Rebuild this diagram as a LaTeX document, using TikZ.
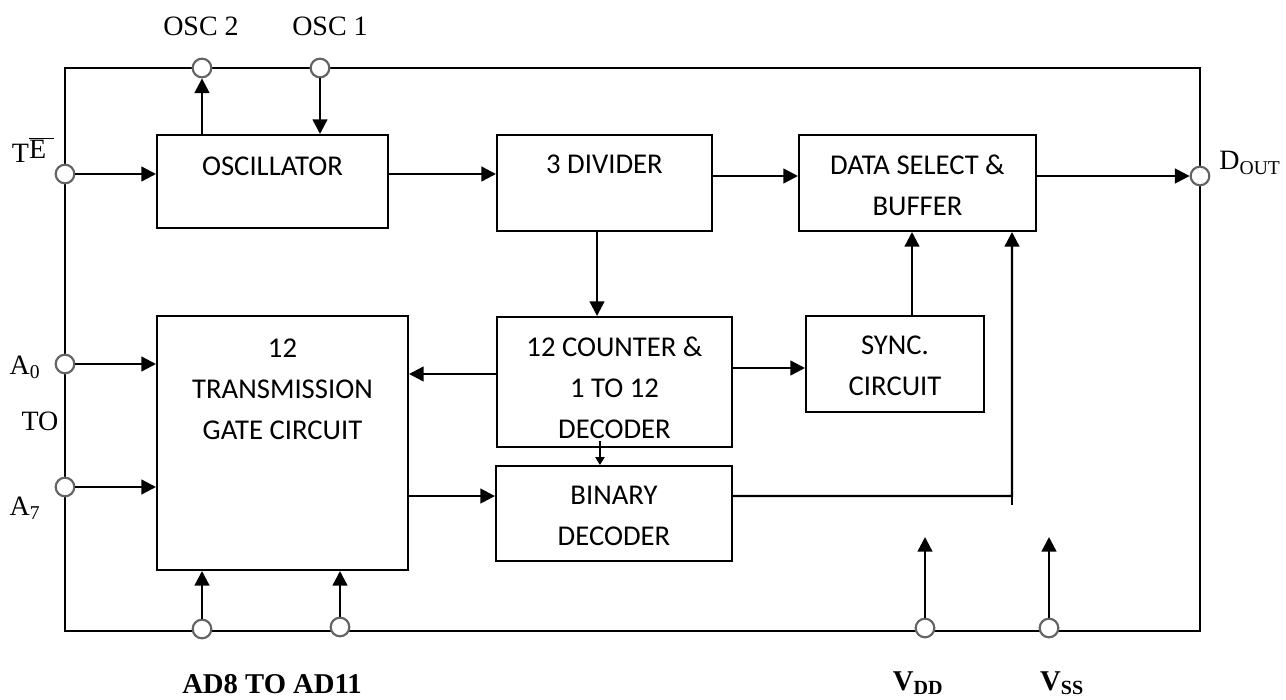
\documentclass[tikz,border=0pt]{standalone}
\usepackage{fontspec}
\setmainfont{Liberation Serif}
\newfontfamily\blkfont{Carlito}
\usetikzlibrary{positioning,arrows.meta}

\tikzset{every picture/.style={line width=1.5pt}}
\tikzset{
	blk/.style={draw, rectangle, inner sep=0pt},
	blktext/.style={inner sep=0pt, align=center, font=\blkfont\fontsize{21.5}{30.75}\selectfont},
	pinc/.style={circle, draw={rgb, 255:red, 100; green, 100; blue, 100 }, fill=white, inner sep=0pt, minimum size=14pt, line width=1.6pt},
	pinlabel/.style={inner sep=0pt, font=\fontsize{21}{25}\selectfont},
	arr/.style={-{Triangle[length=11pt,width=11pt]}, line width=1.8pt},
	smallarr/.style={-{Triangle[length=6pt,width=7pt]}, line width=1.2pt},
}

\begin{document}
\begin{tikzpicture}[x=0.75pt,y=0.75pt,yscale=-1,xscale=1]
	\useasboundingbox (0,0) rectangle (1286,700);

	%Shape: Rectangle [chip outline]
	\draw (65,68) rectangle (1200,631);

	%Blocks
	\node[blk, minimum width=173.25pt, minimum height=69.75pt] (osc) at (272.5,181.5) {};
	\node[blk, minimum width=161.25pt, minimum height=72pt] (div) at (604.5,183) {};
	\node[blk, minimum width=177.75pt, minimum height=72pt] (dsb) at (917.5,183) {};
	\node[blk, minimum width=176.25pt, minimum height=97.5pt] (cnt) at (614.5,382) {};
	\node[blk, minimum width=133.5pt, minimum height=72pt] (sync) at (895,364) {};
	\node[blk, minimum width=188.25pt, minimum height=190.5pt] (tgc) at (282.5,443) {};
	\node[blk, minimum width=177pt, minimum height=71.25pt] (bin) at (614,513.5) {};

	%Block texts
	\node[blktext, below=16.5pt of osc.north] (osct) {OSCILLATOR};
	\node[blktext, below=15pt of div.north] (divt) {3 DIVIDER};
	\node[blktext, below=15pt of dsb.north] (dsbt) {DATA SELECT \&\\BUFFER};
	\node[blktext, below=15pt of cnt.north] (cntt) {12 COUNTER \&\\1 TO 12\\DECODER};
	\node[blktext, below=15pt of sync.north] (synct) {SYNC.\\CIRCUIT};
	\node[blktext, below=17pt of tgc.north] (tgct) {12\\TRANSMISSION\\GATE CIRCUIT};
	\node[blktext, below=15pt of bin.north] (bint) {BINARY\\DECODER};

	%Pins
	\node[pinc] (osctwo) at (202,68) {};
	\node[pinc] (oscone) at (320,68) {};
	\node[pinc] (te) at (65,174) {};
	\node[pinc] (azero) at (65,364) {};
	\node[pinc] (aseven) at (65,487) {};
	\node[pinc] (adlo) at (202,629) {};
	\node[pinc] (adhi) at (340,627) {};
	\node[pinc] (vdd) at (925,628) {};
	\node[pinc] (vss) at (1049,628) {};
	\node[pinc] (dout) at (1200,176) {};

	%Pin labels
	\node[pinlabel] (osctwol) at (201,26) {OSC 2};
	\node[pinlabel] (osconel) at (330,26) {OSC 1};
	\node[pinlabel] (tel) at (33,150) {T\raisebox{3pt}{$\overline{\mbox{E}\hspace{6pt}}$}};
	\node[pinlabel] (azerol) at (25,367) {A\textsubscript{0}};
	\node[pinlabel] (tol) at (40,421) {TO};
	\node[pinlabel] (asevenl) at (25,508) {A\textsubscript{7}};
	\node[pinlabel] (doutl) at (1250,163) {D\textsubscript{OUT}};
	\node[pinlabel, font=\bfseries\fontsize{21.5}{25}\selectfont] (adl) at (272,684) {AD8 TO AD11};
	\node[pinlabel, font=\bfseries\fontsize{21.5}{25}\selectfont] (vddl) at (918,683) {V\textsubscript{DD}};
	\node[pinlabel, font=\bfseries\fontsize{21.5}{25}\selectfont] (vssl) at (1062,683) {V\textsubscript{SS}};

	%Connectors
	\draw[arr] (osc.north -| osctwo) -- (osctwo);
	\draw[arr] (oscone) -- (oscone |- osc.north);
	\draw[arr] (te) -- (te -| osc.west);
	\draw[arr] (osc.east |- te) -- (div.west |- te);
	\draw[arr] (div.east |- dout) -- (dsb.west |- dout);
	\draw[arr] (dsb.east |- dout) -- (dout);
	\draw[arr] ([xshift=-5.6pt]div.south) -- ([xshift=-5.6pt]div.south |- cnt.north);
	\draw[arr] ([yshift=-6pt]cnt.west) -- ([yshift=-6pt]cnt.west -| tgc.east);
	\draw[arr] ([yshift=-10.5pt]cnt.east) -- ([yshift=-10.5pt]cnt.east -| sync.west);
	\draw[arr] ([xshift=12.75pt]sync.north) -- ([xshift=12.75pt]sync.north |- dsb.south);
	\draw[smallarr] ([xshift=-10.9pt,yshift=-5pt]cnt.south) -- ([xshift=-10.9pt]cnt.south |- bin.north);
	\draw[arr] ([yshift=-13.1pt]bin.west -| tgc.east) -- ([yshift=-13.1pt]bin.west);
	\coordinate (jn) at (1012,496);
	\draw[arr] ([yshift=-13.1pt]bin.east) -- (jn) -- (jn |- dsb.south);
	\draw (jn) -- ++(0,9);
	\draw[arr] (azero) -- (azero -| tgc.west);
	\draw[arr] (aseven) -- (aseven -| tgc.west);
	\draw[arr] (adlo) -- (adlo |- tgc.south);
	\draw[arr] (adhi) -- (adhi |- tgc.south);
	\coordinate (vddtip) at (925,537);
	\coordinate (vsstip) at (1049,537);
	\draw[arr] (vdd) -- (vddtip);
	\draw[arr] (vss) -- (vsstip);

\end{tikzpicture}
\end{document}
